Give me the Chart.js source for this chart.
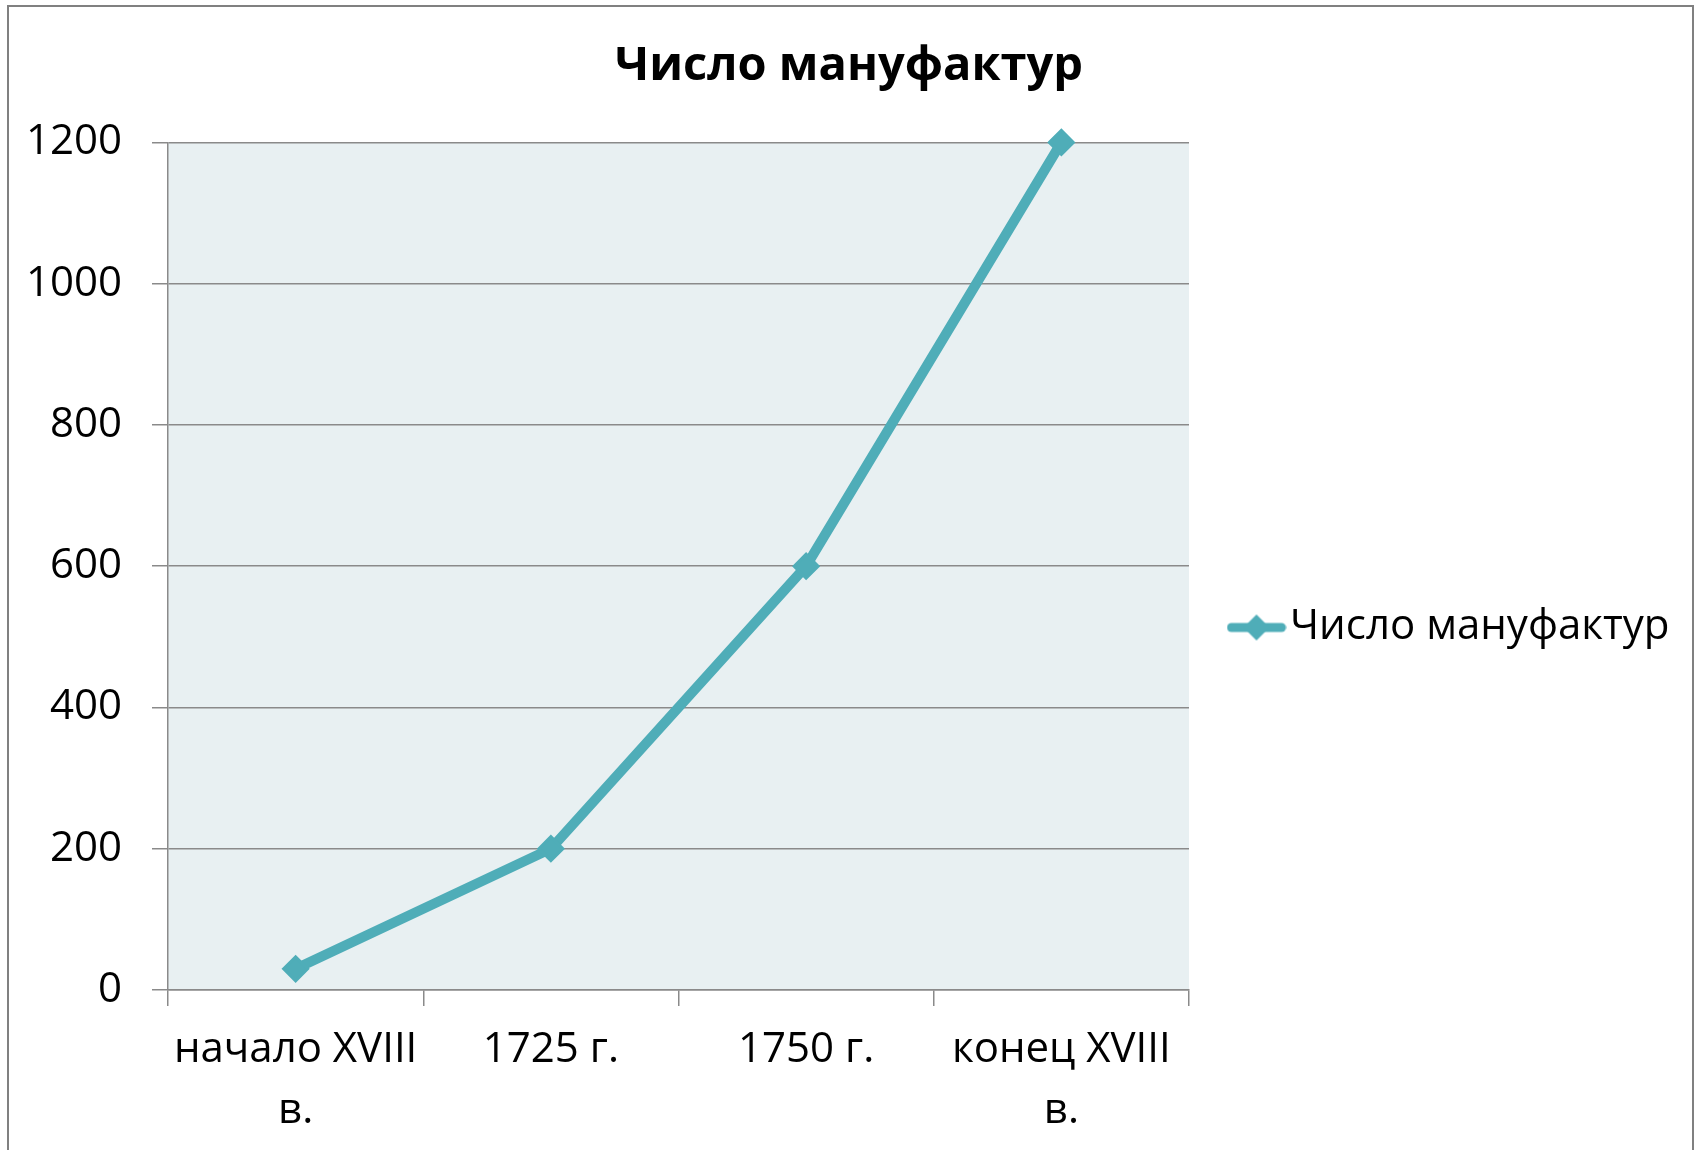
<!DOCTYPE html>
<html>
<head>
<meta charset="utf-8">
<script src="https://cdn.jsdelivr.net/npm/chart.js@4/dist/chart.umd.min.js"></script>
<style>
    html, body { margin: 0; padding: 0; background: #fff; }
    #wrap { position: relative; width: 1698px; height: 1150px; }
    #frame { position: absolute; left: 7px; top: 5px; width: 1683px; height: 1160px; border: 2px solid #808080; pointer-events: none; }
</style>
</head>
<body>
<div id="wrap">
    <canvas id="chart"></canvas>
    <div id="frame"></div>
</div>
<script>
const categories = [['начало XVIII', 'в.'], '1725 г.', '1750 г.', ['конец XVIII', 'в.']];
const manufactories = [30, 200, 600, 1200];
const seriesName = 'Число мануфактур';
const chartTitle = 'Число мануфактур';

const lineColor = '#4fadb8';
const gridColor = '#8a8a8a';
const fontFamily = '"Open Sans", sans-serif';

const ctx = document.getElementById('chart').getContext('2d');

// legend marker: short line with a diamond, like the spreadsheet legend
const marker = document.createElement('canvas');
marker.width = 60;
marker.height = 30;
const m = marker.getContext('2d');
m.strokeStyle = lineColor;
m.lineWidth = 9;
m.lineCap = 'round';
m.beginPath();
m.moveTo(5, 15);
m.lineTo(55, 15);
m.stroke();
m.fillStyle = lineColor;
m.beginPath();
m.moveTo(30, 2);
m.lineTo(43, 15);
m.lineTo(30, 28);
m.lineTo(17, 15);
m.closePath();
m.fill();

const plotBackground = {
    id: 'plotBackground',
    beforeDraw(chart) {
        const a = chart.chartArea;
        chart.ctx.save();
        chart.ctx.fillStyle = '#e8f0f2';
        chart.ctx.fillRect(a.left, a.top, a.right - a.left, a.bottom - a.top);
        chart.ctx.restore();
    }
};

const fixLegend = {
    id: 'fixLegend',
    afterInit(chart) {
        const legend = chart.legend;
        const fit = legend.fit.bind(legend);
        legend.fit = function () {
            fit();
            this.width = 509;
        };
    }
};

new Chart(ctx, {
    type: 'line',
    data: {
        labels: categories,
        datasets: [
            {
                label: seriesName,
                data: manufactories,
                borderColor: lineColor,
                backgroundColor: lineColor,
                borderWidth: 10,
                pointStyle: 'rectRot',
                pointRadius: 12,
                pointBorderWidth: 3,
                pointBackgroundColor: lineColor,
                pointBorderColor: lineColor,
                tension: 0,
                clip: false
            }
        ]
    },
    options: {
        responsive: true,
        maintainAspectRatio: false,
        animation: false,
        layout: { padding: 0 },
        plugins: {
            title: {
                display: true,
                text: chartTitle,
                color: '#000',
                font: { family: fontFamily, size: 47, weight: 'bold', lineHeight: 1.2 },
                padding: { top: 38, bottom: 48 }
            },
            legend: {
                position: 'right',
                align: 'center',
                title: {
                    display: true,
                    text: '',
                    font: { size: 10, lineHeight: 1 },
                    padding: { top: 0, bottom: 95 }
                },
                labels: {
                    color: '#000',
                    font: { family: fontFamily, size: 42 },
                    usePointStyle: true,
                    pointStyleWidth: 25,
                    padding: 55,
                    generateLabels(chart) {
                        return Chart.defaults.plugins.legend.labels.generateLabels(chart).map(item => {
                            item.pointStyle = marker;
                            return item;
                        });
                    }
                }
            },
            tooltip: { enabled: false }
        },
        scales: {
            x: {
                offset: true,
                afterFit(scale) { scale.height = 160; },
                grid: {
                    offset: true,
                    drawOnChartArea: false,
                    drawTicks: true,
                    tickLength: 16,
                    color: gridColor,
                    lineWidth: 1.5
                },
                border: { display: true, color: gridColor, width: 1.5 },
                ticks: {
                    color: '#000',
                    padding: 14,
                    maxRotation: 0,
                    autoSkip: false,
                    font: { family: fontFamily, size: 42, lineHeight: 1.45 }
                }
            },
            y: {
                min: 0,
                max: 1200,
                afterFit(scale) { scale.width = 168; },
                grid: {
                    drawTicks: true,
                    tickLength: 16,
                    color: gridColor,
                    lineWidth: 1.5
                },
                border: { display: true, color: gridColor, width: 1.5 },
                ticks: {
                    stepSize: 200,
                    color: '#000',
                    padding: 30,
                    font: { family: fontFamily, size: 42 },
                    callback: value => String(value)
                }
            }
        }
    },
    plugins: [plotBackground, fixLegend]
});
</script>
</body>
</html>
